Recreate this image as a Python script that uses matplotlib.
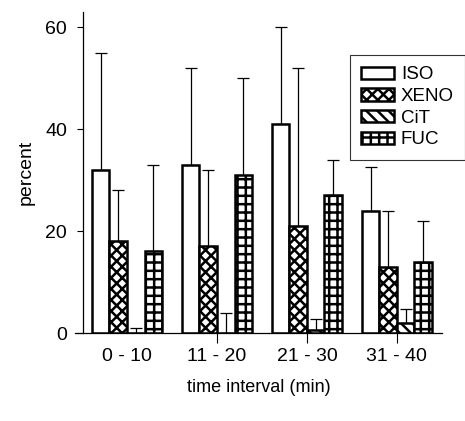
import matplotlib
matplotlib.use('Agg')
import matplotlib.pyplot as plt
import numpy as np

plt.rcParams['font.family'] = ['Liberation Sans', 'DejaVu Sans']
plt.rcParams['hatch.linewidth'] = 1.8

groups = ['0 - 10', '11 - 20', '21 - 30', '31 - 40']
series = ['ISO', 'XENO', 'CiT', 'FUC']
iso = [32, 33, 41, 24]
xeno = [18, 17, 21, 13]
cit = [0, 0, 0.5, 2]
fuc = [16, 31, 27, 14]
iso_err = [23, 19, 19, 8.5]
xeno_err = [10, 15, 31, 11]
cit_err = [1, 4, 2.2, 2.8]
fuc_err = [17, 19, 7, 8]

values = [iso, xeno, cit, fuc]
errors = [iso_err, xeno_err, cit_err, fuc_err]
hatches = ['', 'xxx', '\\\\\\', '++']

fig = plt.figure(figsize=(4.65, 4.21), dpi=100)
ax = fig.add_axes([0.1613, 0.209, 0.789, 0.7625])

x = np.arange(len(groups))
w = 0.195
for i, (vals, errs, h, name) in enumerate(zip(values, errors, hatches, series)):
    pos = x + (i - 1.5) * w
    ax.bar(pos, vals, width=w, facecolor='white', edgecolor='black',
           linewidth=1.8, hatch=h, label=name, zorder=2)
    ax.errorbar(pos, vals, yerr=[np.zeros(len(vals)), errs], fmt='none',
                ecolor='black', elinewidth=0.9, capsize=4, capthick=0.9,
                zorder=1)

ax.set_xlim(-0.578, 3.5)
ax.set_ylim(0, 63)
ax.spines['top'].set_visible(False)
ax.spines['right'].set_visible(False)
ax.spines['left'].set_position(('data', -0.49))
ax.spines['left'].set_linewidth(0.9)
ax.spines['bottom'].set_linewidth(0.9)

ax.set_yticks([0, 20, 40, 60])
ax.set_xticks(x)
ax.set_xticklabels(groups)
ax.xaxis.get_major_ticks()[0].tick1line.set_visible(False)
ax.tick_params(axis='y', direction='out', length=4.3, width=0.8, pad=7, labelsize=14)
ax.tick_params(axis='x', direction='out', length=7, width=0.8, pad=4, labelsize=14)

ax.set_ylabel('percent', fontsize=14, labelpad=8)
ax.set_xlabel('time interval (min)', fontsize=13, va='center')
ax.xaxis.set_label_coords(0.5, -0.171)

leg = fig.legend(loc='upper left', bbox_to_anchor=(0.753, 0.869), frameon=True,
                 fancybox=False, edgecolor='black', fontsize=13.5,
                 handlelength=1.75, handleheight=0.65, handletextpad=0.35,
                 labelspacing=0.25, borderpad=0.6, borderaxespad=0)
leg.get_frame().set_linewidth(0.8)

fig.savefig('out.png', dpi=100, facecolor='white')
